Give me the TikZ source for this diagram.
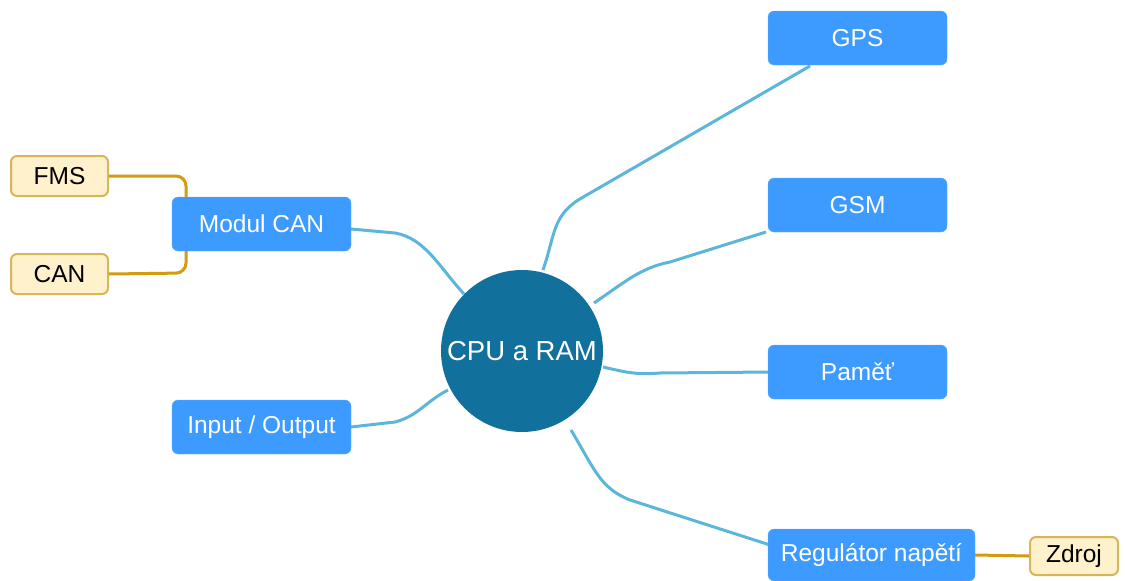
\documentclass[tikz,border=0pt]{standalone}
\usepackage{fontspec}
\setmainfont{Liberation Sans}
\definecolor{boxblue}{HTML}{3D9BFF}
\definecolor{hub}{HTML}{11709C}
\definecolor{linkblue}{HTML}{5CB5DA}
\definecolor{goldline}{HTML}{D49A10}
\definecolor{creamfill}{HTML}{FFF1CC}
\definecolor{creamdraw}{HTML}{D6B656}
\begin{document}
\begin{tikzpicture}[x=1pt,y=-1pt,
  bluebox/.style={fill=boxblue,draw=boxblue!80!white,rounded corners=6pt,text=white,
    minimum height=54pt,inner sep=0pt,font=\fontsize{24.5}{29}\selectfont},
  leafbox/.style={fill=creamfill,draw=creamdraw,line width=2pt,rounded corners=6pt,text=black,
    minimum height=40pt,inner sep=0pt,font=\fontsize{24.5}{29}\selectfont},
  link/.style={draw=linkblue,line width=3pt},
  goldlink/.style={draw=goldline,line width=3pt,rounded corners=10pt}]
\useasboundingbox (0,0) rectangle (1125,581);
% connectors first (drawn beneath nodes)
\coordinate (gpsA) at (543,270);
\coordinate (gpsB) at (810,66);
\coordinate (gsmA) at (594,303);
\coordinate (gsmB) at (766,232);
\coordinate (pamA) at (603,367);
\coordinate (pamB) at (770,372);
\coordinate (regA) at (571,430);
\coordinate (regB) at (770,545);
\coordinate (canA) at (464,294);
\coordinate (canB) at (351,229);
\coordinate (ioA) at (448,390);
\coordinate (ioB) at (351,427);
\draw[link] (gpsA) .. controls (556,232) and (552,214) .. (585,196) -- (gpsB);
\draw[link] (gsmA) .. controls (625,282) and (640,268) .. (670,262) -- (gsmB);
\draw[link] (pamA) .. controls (625,372) and (635,375) .. (660,373) -- (pamB);
\draw[link] (regA) .. controls (595,470) and (600,488) .. (630,500) -- (regB);
\draw[link] (canA) .. controls (440,268) and (425,238) .. (395,233) -- (canB);
\draw[link] (ioA) .. controls (425,402) and (418,416) .. (395,422) -- (ioB);
% nodes
\node[circle,fill=hub,minimum size=162pt,inner sep=0pt,text=white,
  font=\fontsize{27.5}{32}\selectfont] (cpu) at (522,351) {CPU a RAM};
\node[bluebox,minimum width=179pt] (gps) at (857.5,38) {GPS};
\node[bluebox,minimum width=179pt] (gsm) at (857.5,205) {GSM};
\node[bluebox,minimum width=179pt] (pam) at (857.5,372) {Paměť};
\node[bluebox,minimum width=207pt,minimum height=52pt] (reg) at (871.5,555) {Regulátor napětí};
\node[bluebox,minimum width=179pt] (mcan) at (261.5,224) {Modul CAN};
\node[bluebox,minimum width=179pt] (io) at (261.5,427) {Input / Output};
\node[leafbox,minimum width=97pt] (fms) at (59.5,176) {FMS};
\node[leafbox,minimum width=97pt] (can) at (59.5,274) {CAN};
\node[leafbox,minimum width=88pt,minimum height=38pt] (zdroj) at (1074,556) {Zdroj};
% gold connectors
\draw[goldlink] (fms.east) -- (186,176) -- (186,197);
\draw[goldlink] (can.east) -- (186,273) -- (186,251);
\draw[draw=goldline,line width=3pt] (reg.east) -- (zdroj.west);
\end{tikzpicture}
\end{document}
